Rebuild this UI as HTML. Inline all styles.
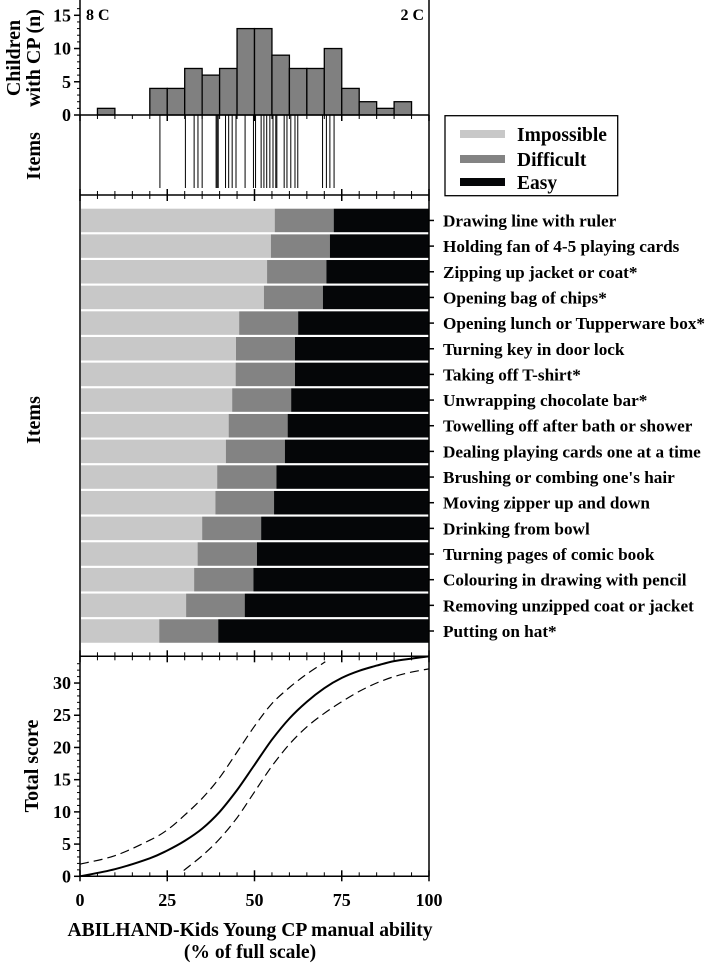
<!DOCTYPE html>
<html><head><meta charset="utf-8"><style>
body{margin:0;background:#fff}
svg{display:block;font-family:"Liberation Serif",serif;font-weight:bold}
</style></head><body>
<svg id="c" width="709" height="963" xmlns="http://www.w3.org/2000/svg"></svg>
<script>
const histBins=[0,5,10,15,20,25,30,35,40,45,50,55,60,65,70,75,80,85,90];
const histCounts=[0,1,0,0,4,4,7,6,7,13,13,9,7,7,10,4,2,1,2];
const itemLocs=[22.9,30.2,32.7,33.8,35.0,39.0,39.3,39.6,41.7,42.6,43.6,44.7,47.3,49.7,50.3,51.9,52.7,53.5,54.4,55.3,56.1,56.4,58.5,59.3,60.4,61.6,62.4,69.5,70.6,71.6,72.8];
const itemNames=["Drawing line with ruler","Holding fan of 4-5 playing cards","Zipping up jacket or coat*","Opening bag of chips*","Opening lunch or Tupperware box*","Turning key in door lock","Taking off T-shirt*","Unwrapping chocolate bar*","Towelling off after bath or shower","Dealing playing cards one at a time","Brushing or combing one's hair","Moving zipper up and down","Drinking from bowl","Turning pages of comic book","Colouring in drawing with pencil","Removing unzipped coat or jacket","Putting on hat*"];
const impossibleEnd=[55.8,54.7,53.6,52.7,45.6,44.7,44.6,43.6,42.6,41.8,39.3,38.8,35.0,33.7,32.7,30.4,22.7];
const difficultEnd=[72.7,71.6,70.6,69.6,62.5,61.6,61.6,60.5,59.5,58.7,56.3,55.6,51.9,50.7,49.7,47.2,39.6];
const curveX=[0,10,20,25,30,35,40,45,50,55,60,65,70,75,80,85,90,95,100];
const totalMean=[0,1.1,2.8,4,5.5,7.4,10,13.4,17.3,21.2,24.5,27.1,29.2,30.8,31.9,32.7,33.4,33.8,34.15];
const upperX=[0,10,20,25,30,35,40,45,50,55,60,65,70.3];
const upperY=[1.9,3.2,5.6,7.2,9.5,12.1,15.3,19.3,23.3,26.8,29.3,31.4,33.3];
const lowerX=[29.7,35,40,45,50,55,60,65,70,75,80,85,90,95,100];
const lowerY=[0.9,3.2,5.8,9.1,13.1,17.1,20.5,23.2,25.3,27.1,28.7,30,31,31.7,32.2];
const yTicksHist=[0,5,10,15];
const yTicksTotal=[0,5,10,15,20,25,30];
const xTicks=[0,25,50,75,100];

const NS="http://www.w3.org/2000/svg";
const svg=document.getElementById('c');
const X0=80,X1=429;
const sx=v=>X0+(X1-X0)*v/100;
const H0=115,HT=2; const sh=v=>H0-(H0-HT)*v/17;
const T0=876.3,TT=656.3; const st=v=>T0-(T0-TT)*v/34.15;
function el(t,a,name,p){const e=document.createElementNS(NS,t);for(const k in a)e.setAttribute(k,a[k]);(p||svg).appendChild(e);return e;}
function txt(s,x,y,size,anchor,name,rot){const e=el('text',{x:x,y:y,'font-size':size,'text-anchor':anchor||'start'},name);if(rot)e.setAttribute('transform','rotate(-90 '+x+' '+y+')');e.textContent=s;return e;}
function line(x1,y1,x2,y2,name,w){return el('line',{x1,y1,x2,y2,stroke:'#000','stroke-width':w||1.5},name);}

histBins.forEach((b,i)=>{if(histCounts[i]>0){el('rect',{x:sx(b),y:sh(histCounts[i]),width:sx(b+5)-sx(b),height:H0-sh(histCounts[i]),fill:'#808080',stroke:'#000','stroke-width':1.3},'hist-bar');}});
yTicksHist.forEach(v=>{line(X0-6,sh(v),X0,sh(v),'hist-y-tick');txt(String(v),X0-9,sh(v)+6,18,'end','hist-y-label');});
for(let v=1;v<17;v++)if(v%5)line(X0-3,sh(v),X0,sh(v),'hist-y-minor',1);
txt('8 C',86,20,16,'start','label-8c');txt('2 C',424,20,16,'end','label-2c');
itemLocs.forEach(v=>line(sx(v),H0,sx(v),188,'item-location',1));
const top0=208.7,pitch=25.66,bh=23.5;
itemNames.forEach((n,i)=>{const y=top0+i*pitch;
el('rect',{x:X0+1,y:y,width:sx(impossibleEnd[i])-X0-1,height:bh,fill:'#c8c8c8'},'bar-impossible');
el('rect',{x:sx(impossibleEnd[i]),y:y,width:sx(difficultEnd[i])-sx(impossibleEnd[i]),height:bh,fill:'#838383'},'bar-difficult');
el('rect',{x:sx(difficultEnd[i]),y:y,width:X1-sx(difficultEnd[i]),height:bh,fill:'#050608'},'bar-easy');
line(X1,y+bh/2,X1+5,y+bh/2,'item-tick');
txt(n,443,y+bh/2+6,17.2,'start','item-label');});
function path(xs,ys,name,dash){
 const P=xs.map((x,i)=>[sx(x),st(ys[i])]);
 let d='M'+P[0][0].toFixed(1)+' '+P[0][1].toFixed(1);
 for(let i=0;i<P.length-1;i++){const p0=P[Math.max(0,i-1)],p1=P[i],p2=P[i+1],p3=P[Math.min(P.length-1,i+2)];
  const c1=[p1[0]+(p2[0]-p0[0])/6,p1[1]+(p2[1]-p0[1])/6],c2=[p2[0]-(p3[0]-p1[0])/6,p2[1]-(p3[1]-p1[1])/6];
  d+=' C'+c1.map(v=>v.toFixed(1)).join(' ')+' '+c2.map(v=>v.toFixed(1)).join(' ')+' '+p2[0].toFixed(1)+' '+p2[1].toFixed(1);}
 const p=el('path',{d:d,fill:'none',stroke:'#000','stroke-width':dash?1.2:2},name);if(dash)p.setAttribute('stroke-dasharray','9 5');}
path(curveX,totalMean,'total-score-curve');
path(upperX,upperY,'upper-ci-curve',1);
path(lowerX,lowerY,'lower-ci-curve',1);
yTicksTotal.forEach(v=>{line(X0-6,st(v),X0,st(v),'total-y-tick');txt(String(v),X0-9,st(v)+6,18,'end','total-y-label');});
for(let v=1;v<34;v++)if(v%5)line(X0-3,st(v),X0,st(v),'total-y-minor',1);
[H0,195,656.3,T0].forEach((y,k)=>{line(X0,y,X1,y,'x-axis-line');
for(let v=0;v<=100;v+=5){const maj=v%25===0,L=maj?6:4;
 if(k===0)line(sx(v),y,sx(v),y+L,'x-tick',maj?1.5:1);
 else if(k===3)line(sx(v),y-L,sx(v),y+(maj?5:0),'x-tick',maj?1.5:1);
 else line(sx(v),y-L,sx(v),y+L,'x-tick',maj?1.5:1);}});
line(X0,0,X0,T0,'y-axis-line');line(X1,0,X1,T0,'right-border');
xTicks.forEach(v=>txt(String(v),sx(v),906,18,'middle','x-tick-label'));
txt('ABILHAND-Kids Young CP manual ability',250,936,19.6,'middle','x-axis-title');
txt('(% of full scale)',250,958,19.6,'middle','x-axis-title-2');
txt('Children',20,58,20,'middle','hist-y-title',1);
txt('with CP (n)',40,58,20,'middle','hist-y-title-2',1);
txt('Items',40,156,20,'middle','items-y-title',1);
txt('Items',40,420,20,'middle','bars-y-title',1);
txt('Total score',38,766,20,'middle','total-y-title',1);
const g=el('g',{},'legend');
el('rect',{x:445,y:115.7,width:172.7,height:80,fill:'#fff',stroke:'#000','stroke-width':1.3},'legend-box',g);
[['Impossible','#c8c8c8',134],['Difficult','#838383',159],['Easy','#050608',182]].forEach(a=>{
el('rect',{x:460,y:a[2]-4,width:45,height:8,fill:a[1]},'legend-swatch',g);
const t=el('text',{x:517,y:a[2]+7,'font-size':19.5},'legend-entry',g);t.textContent=a[0];});
</script>
</body></html>
